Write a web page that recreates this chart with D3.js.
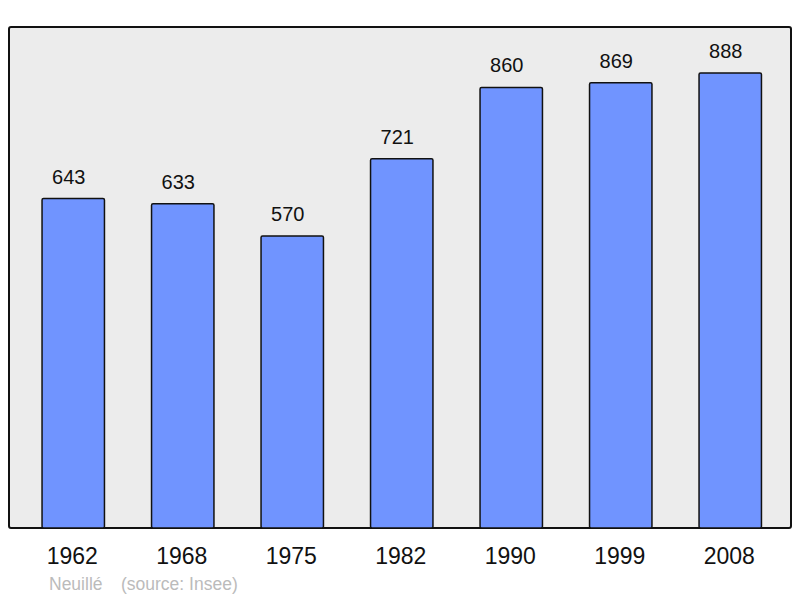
<!DOCTYPE html>
<html><head><meta charset="utf-8">
<script src="https://cdn.jsdelivr.net/npm/d3@7"></script>
<style>body{margin:0;background:#fff}svg{display:block}</style>
</head><body>
<script>
const years = ["1962","1968","1975","1982","1990","1999","2008"];
const population = [643,633,570,721,860,869,888];
const commune = "Neuillé";
const sourceText = "(source: Insee)";

const W = 800, H = 598;
const frame = {x0: 9, x1: 791, y0: 27, y1: 528};
const svg = d3.select("body").append("svg").attr("width", W).attr("height", H);

svg.append("rect").attr("x", frame.x0).attr("y", frame.y0)
  .attr("width", frame.x1 - frame.x0).attr("height", frame.y1 - frame.y0)
  .attr("rx", 2).attr("fill", "#ececec").attr("stroke", "#111").attr("stroke-width", 2);

const x = d3.scaleBand().domain(years).range([18.5, 785]).paddingInner(0.43).paddingOuter(0.215);
const y = d3.scaleLinear().domain([0, 978]).range([frame.y1, frame.y0]);

const bx = d => x(d);
svg.selectAll("rect.bar").data(years).join("rect").attr("class","bar")
  .attr("x", d => bx(d)).attr("width", x.bandwidth())
  .attr("y", (d,i) => y(population[i])).attr("height", (d,i) => frame.y1 - y(population[i]))
  .attr("rx", 1.5).attr("fill", "#7094ff").attr("stroke", "#111").attr("stroke-width", 1.5);

svg.selectAll("text.val").data(years).join("text").attr("class","val")
  .attr("x", d => bx(d) + x.bandwidth()/2 - 4.5)
  .attr("y", (d,i) => y(population[i]) - 15)
  .attr("text-anchor","middle").attr("font-family","Liberation Sans, Arial, sans-serif")
  .attr("font-size", 20).attr("fill","#111").text((d,i) => population[i]);

svg.selectAll("text.yr").data(years).join("text").attr("class","yr")
  .attr("x", d => bx(d) + x.bandwidth()/2 - 1)
  .attr("y", 564)
  .attr("text-anchor","middle").attr("font-family","Liberation Sans, Arial, sans-serif")
  .attr("font-size", 23).attr("fill","#111").text(d => d);

svg.append("text").attr("x", 49).attr("y", 590)
  .attr("font-family","Liberation Sans, Arial, sans-serif").attr("font-size", 17.5)
  .attr("fill","#bbbbbb").text(commune);
svg.append("text").attr("x", 121).attr("y", 590)
  .attr("font-family","Liberation Sans, Arial, sans-serif").attr("font-size", 17.5)
  .attr("fill","#bbbbbb").text(sourceText);
</script>
</body></html>
